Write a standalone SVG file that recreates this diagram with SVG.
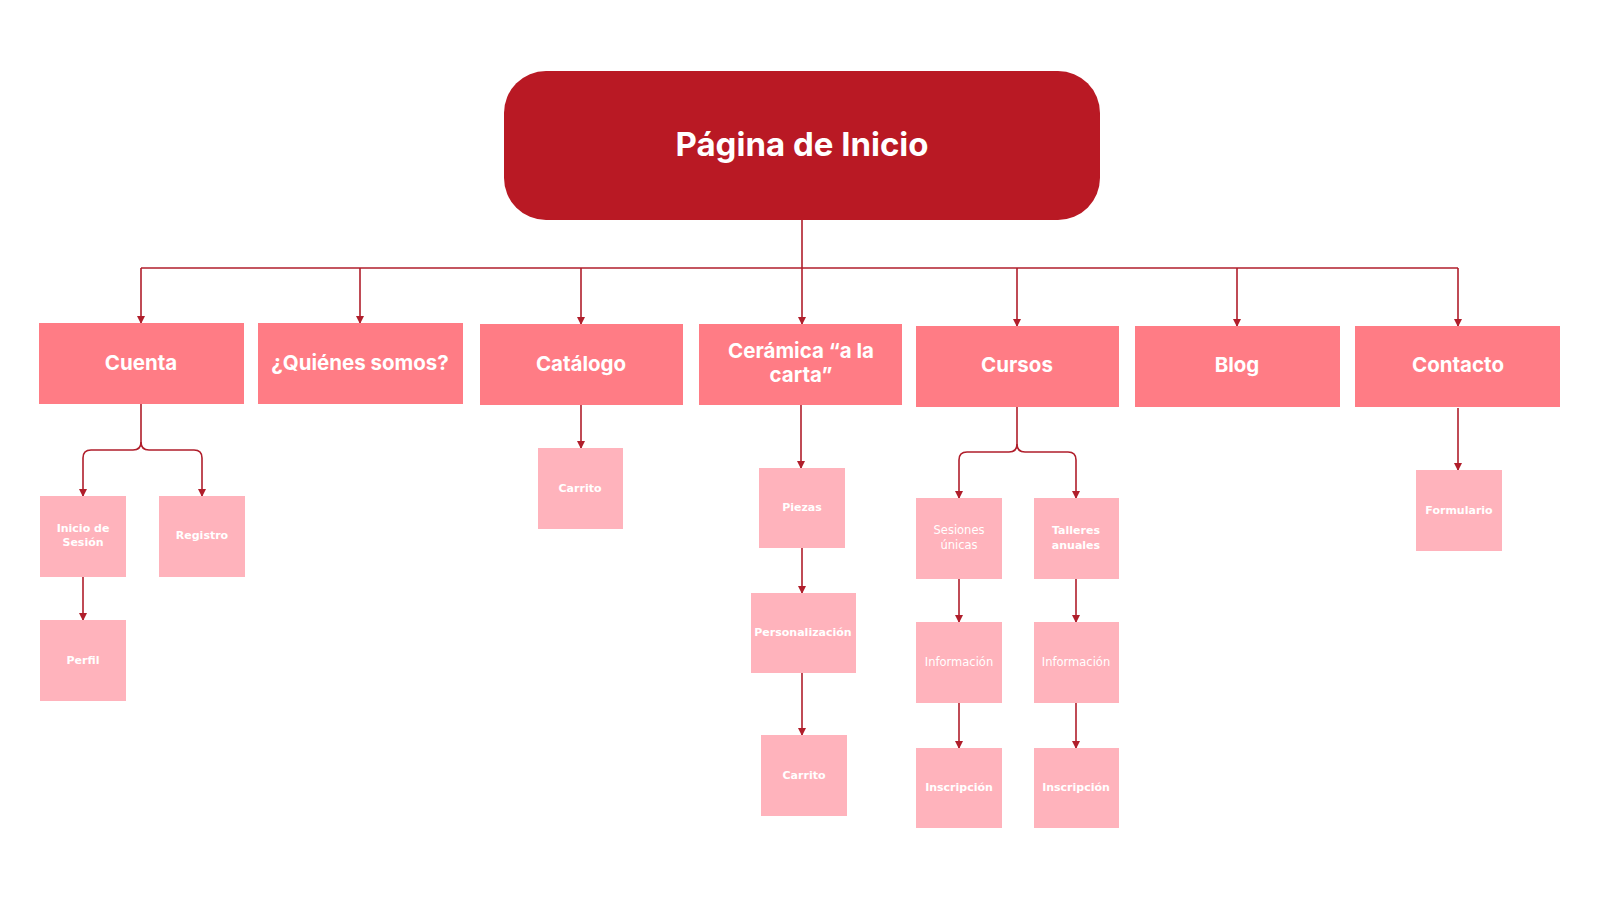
<svg xmlns="http://www.w3.org/2000/svg" width="1600" height="900" viewBox="0 0 1600 900">
<defs>
<marker id="ah" markerUnits="userSpaceOnUse" markerWidth="8" markerHeight="8" refX="7" refY="4" orient="auto" viewBox="0 0 8 8">
<path d="M0,0 L8,4 L0,8 Z" fill="#B01E2B"/>
</marker>
<style>
.root{fill:#B91924}
.l1{fill:#FF7C85}
.l2{fill:#FFB3BC}
.t0{font-family:Inter,"Liberation Sans",sans-serif;font-weight:700;font-size:33px;fill:#fff;text-anchor:middle}
.t1{font-family:Inter,"Liberation Sans",sans-serif;font-weight:700;font-size:20.5px;fill:#fff;text-anchor:middle}
.t2{font-family:"DejaVu Sans",sans-serif;font-weight:700;font-size:11px;fill:#fff;text-anchor:middle}
.t2r{font-family:"DejaVu Sans",sans-serif;font-weight:400;font-size:11.5px;fill:#fff;text-anchor:middle}
.c{fill:none;stroke:#B01E2B;stroke-width:1.6}
.a{marker-end:url(#ah)}
</style>
</defs>
<rect width="1600" height="900" fill="#fff"/>
<g id="connectors">
<path class="c" d="M802,220 V268"/>
<path class="c" d="M141,268 H1458"/>
<path class="c a" d="M141,268 V323"/>
<path class="c a" d="M360,268 V323"/>
<path class="c a" d="M581,268 V324"/>
<path class="c a" d="M802,268 V324"/>
<path class="c a" d="M1017,268 V326"/>
<path class="c a" d="M1237,268 V326"/>
<path class="c a" d="M1458,268 V326"/>
<path class="c" d="M141,404 V442 Q141,450 133,450 H91 Q83,450 83,458"/>
<path class="c a" d="M83,458 V496"/>
<path class="c" d="M141,442 Q141,450 149,450 H194 Q202,450 202,458"/>
<path class="c a" d="M202,458 V496"/>
<path class="c a" d="M83,577 V620"/>
<path class="c a" d="M581,405 V448"/>
<path class="c a" d="M801,405 V468"/>
<path class="c a" d="M802,548 V593"/>
<path class="c a" d="M802,672 V735"/>
<path class="c" d="M1017,406 V444 Q1017,452 1009,452 H967 Q959,452 959,460"/>
<path class="c a" d="M959,460 V498"/>
<path class="c" d="M1017,444 Q1017,452 1025,452 H1068 Q1076,452 1076,460"/>
<path class="c a" d="M1076,460 V498"/>
<path class="c a" d="M959,579 V622"/>
<path class="c a" d="M1076,579 V622"/>
<path class="c a" d="M959,703 V748"/>
<path class="c a" d="M1076,703 V748"/>
<path class="c a" d="M1458,408 V470"/>
</g>
<g id="inicio"><rect class="root" x="504" y="71" width="596" height="149" rx="42"/><text class="t0" x="802" y="156">Página de Inicio</text></g>
<g id="cuenta"><rect class="l1" x="39" y="323" width="205" height="81"/><text class="t1" x="141" y="370">Cuenta</text></g>
<g id="quienes"><rect class="l1" x="258" y="323" width="205" height="81"/><text class="t1" x="360" y="370">¿Quiénes somos?</text></g>
<g id="catalogo"><rect class="l1" x="480" y="324" width="203" height="81"/><text class="t1" x="581" y="371">Catálogo</text></g>
<g id="ceramica"><rect class="l1" x="699" y="324" width="203" height="81"/><text class="t1" x="801" y="358">Cerámica “a la</text><text class="t1" x="801" y="382">carta”</text></g>
<g id="cursos"><rect class="l1" x="916" y="326" width="203" height="81"/><text class="t1" x="1017" y="372">Cursos</text></g>
<g id="blog"><rect class="l1" x="1135" y="326" width="205" height="81"/><text class="t1" x="1237" y="372">Blog</text></g>
<g id="contacto"><rect class="l1" x="1355" y="326" width="205" height="81"/><text class="t1" x="1458" y="372">Contacto</text></g>
<g id="inicio-sesion"><rect class="l2" x="40" y="496" width="86" height="81"/><text class="t2" x="83" y="532">Inicio de</text><text class="t2" x="83" y="546">Sesión</text></g>
<g id="registro"><rect class="l2" x="159" y="496" width="86" height="81"/><text class="t2" x="202" y="539">Registro</text></g>
<g id="perfil"><rect class="l2" x="40" y="620" width="86" height="81"/><text class="t2" x="83" y="664">Perfil</text></g>
<g id="carrito1"><rect class="l2" x="538" y="448" width="85" height="81"/><text class="t2" x="580" y="492">Carrito</text></g>
<g id="piezas"><rect class="l2" x="759" y="468" width="86" height="80"/><text class="t2" x="802" y="511">Piezas</text></g>
<g id="personalizacion"><rect class="l2" x="751" y="593" width="105" height="80"/><text class="t2" x="803" y="636">Personalización</text></g>
<g id="carrito2"><rect class="l2" x="761" y="735" width="86" height="81"/><text class="t2" x="804" y="779">Carrito</text></g>
<g id="sesiones"><rect class="l2" x="916" y="498" width="86" height="81"/><text class="t2r" x="959" y="534">Sesiones</text><text class="t2r" x="959" y="549">únicas</text></g>
<g id="talleres"><rect class="l2" x="1034" y="498" width="85" height="81"/><text class="t2" x="1076" y="534">Talleres</text><text class="t2" x="1076" y="549">anuales</text></g>
<g id="info1"><rect class="l2" x="916" y="622" width="86" height="81"/><text class="t2r" x="959" y="666">Información</text></g>
<g id="info2"><rect class="l2" x="1034" y="622" width="85" height="81"/><text class="t2r" x="1076" y="666">Información</text></g>
<g id="inscripcion1"><rect class="l2" x="916" y="748" width="86" height="80"/><text class="t2" x="959" y="791">Inscripción</text></g>
<g id="inscripcion2"><rect class="l2" x="1034" y="748" width="85" height="80"/><text class="t2" x="1076" y="791">Inscripción</text></g>
<g id="formulario"><rect class="l2" x="1416" y="470" width="86" height="81"/><text class="t2" x="1459" y="514">Formulario</text></g>
</svg>
